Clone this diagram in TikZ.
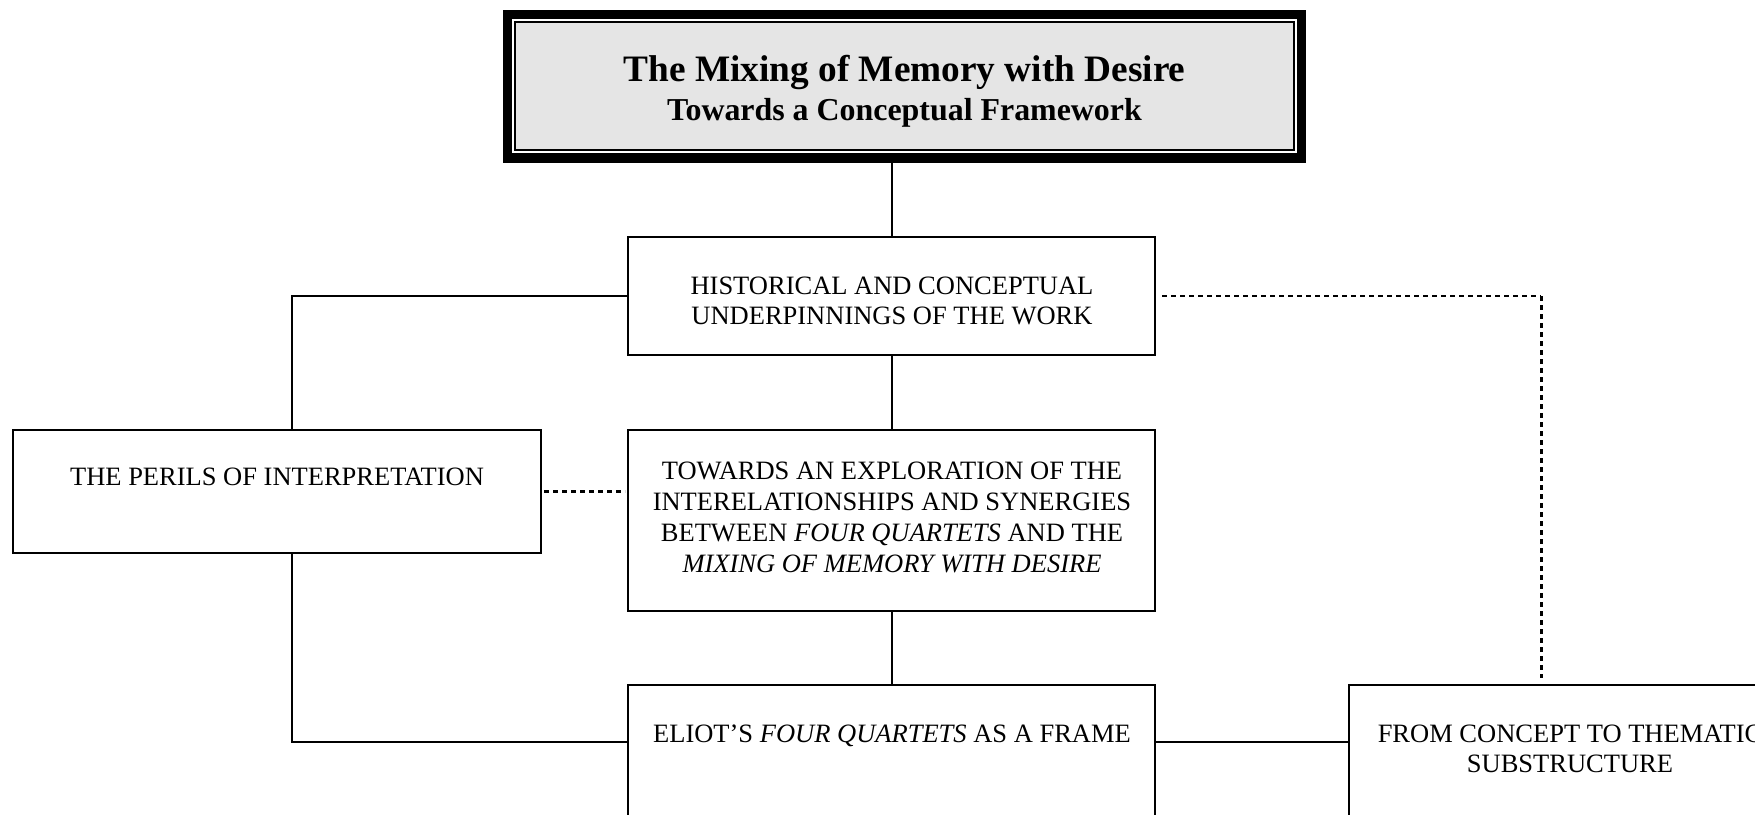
\documentclass[tikz,border=0pt]{standalone}
\usepackage{fontspec}
\setmainfont{Liberation Serif}
\begin{document}
\begin{tikzpicture}[x=0.5pt,y=-0.5pt,
  box/.style={draw,line width=1pt,fill=white,inner sep=0pt,minimum width=263.5pt},
  conn/.style={line width=1pt},
  dotsthick/.style={line width=1.5pt,dash pattern=on 2.5pt off 2pt},
  dotsthin/.style={line width=1pt,dash pattern=on 2.5pt off 2pt},
  txt/.style={inner sep=0pt,anchor=base,font=\fontsize{13.25}{15.3}\selectfont},
  ttl/.style={inner sep=0pt,anchor=base,font=\bfseries\fontsize{18.65}{20}\selectfont},
  sttl/.style={inner sep=0pt,anchor=base,font=\bfseries\fontsize{15.95}{18}\selectfont}]
\useasboundingbox (0,0) rectangle (1755,814);
\clip (0,0) rectangle (1755,814);
\fill[white] (0,0) rectangle (1755,814);
% title frame
\node[fill=black,inner sep=0pt,minimum width=401.5pt,minimum height=76.5pt] (title) at (904.5,86.5) {};
\fill[white] (512,19) rectangle (1297,153);
\draw[line width=1pt,fill=black!10] (515,22) rectangle (1294,150);
\node[ttl] (t1) at (904.5,81.7) {The Mixing of Memory with Desire};
\node[sttl] (t2) at (904.5,120.3) {Towards a Conceptual Framework};
% boxes
\node[box,minimum height=59pt] (hist) at (891.5,296) {};
\node[box,minimum width=264pt,minimum height=61.5pt] (perils) at (277,491.5) {};
\node[box,minimum height=90.5pt] (expl) at (891.5,520.5) {};
\node[box,minimum height=87.5pt] (eliot) at (891.5,772.5) {};
\node[box,minimum width=265.5pt,minimum height=87.5pt] (from) at (1614.5,772.5) {};
% texts
\node[txt] (h1) at (892,294) {HISTORICAL AND CONCEPTUAL};
\node[txt] (h2) at (892,324) {UNDERPINNINGS OF THE WORK};
\node[txt] (p1) at (277,485.6) {THE PERILS OF INTERPRETATION};
\node[txt] (e1) at (892,479) {TOWARDS AN EXPLORATION OF THE};
\node[txt] (e2) at (892,510) {INTERELATIONSHIPS AND SYNERGIES};
\node[txt] (e3) at (892,541) {BETWEEN \textit{FOUR QUARTETS} AND THE};
\node[txt] (e4) at (892,572) {\textit{MIXING OF MEMORY WITH DESIRE}};
\node[txt] (l1) at (892,742) {ELIOT’S \textit{FOUR QUARTETS} AS A FRAME};
\node[txt] (f1) at (1570,742) {FROM CONCEPT TO THEMATIC};
\node[txt] (f2) at (1570,772) {SUBSTRUCTURE};
% helper coordinates
\coordinate (ey) at (0,742);
\coordinate (vx) at (1541,0);
\coordinate (dc) at (hist.east -| vx);
% connectors
\draw[conn] (title.south -| hist.north) -- (hist.north);
\draw[conn] (hist.west) -| ([xshift=7.5pt]perils.north);
\draw[conn] (hist.south) -- (expl.north);
\draw[conn] (expl.south) -- (eliot.north);
\draw[conn] ([xshift=7.5pt]perils.south) |- (eliot.west |- ey);
\draw[conn] (eliot.east |- ey) -- (from.west |- ey);
\draw[dotsthick] ([xshift=1pt]perils.east) -- ([xshift=-1pt]expl.west |- perils.east);
\draw[dotsthin] ([xshift=3pt]hist.east) -- (dc);
\draw[dotsthick] (dc) -- ([yshift=3pt]from.north -| vx);
\end{tikzpicture}
\end{document}
